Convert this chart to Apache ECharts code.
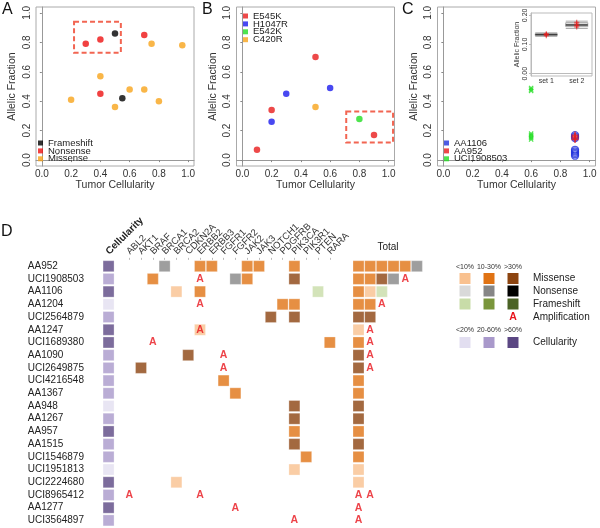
<!DOCTYPE html>
<html><head><meta charset="utf-8">
<script src="https://cdn.jsdelivr.net/npm/echarts@6/dist/echarts.min.js"></script>
<style>html,body{margin:0;padding:0;background:#fff}#c{width:600px;height:528px}</style>
</head><body><div id="c"></div>
<script>
// ---------- Panel A ----------
const aFrameshift = [[0.5,0.86],[0.55,0.42]];
const aNonsense = [[0.3,0.79],[0.4,0.82],[0.7,0.85],[0.4,0.45]];
const aMissense = [[0.75,0.79],[0.96,0.78],[0.4,0.57],[0.6,0.48],[0.7,0.48],[0.2,0.41],[0.5,0.36],[0.8,0.40]];
const aBox = [[0.22,0.94],[0.54,0.73]];
// ---------- Panel B ----------
const bE545K = [[0.5,0.70],[0.2,0.34],[0.1,0.07],[0.9,0.17]];
const bH1047R = [[0.6,0.49],[0.3,0.45],[0.2,0.26]];
const bE542K = [[0.8,0.28]];
const bC420R = [[0.5,0.36]];
const bBox = [[0.71,0.33],[1.03,0.12]];
// ---------- Panel C ----------
const cAA1106 = [[0.9,0.17],[0.9,0.16],[0.9,0.15],[0.9,0.07],[0.9,0.06],[0.9,0.05],[0.9,0.04],[0.9,0.03]];
const cAA952 = [[0.9,0.17],[0.9,0.16],[0.9,0.15],[0.9,0.14]];
const cUCI1908503 = [[0.6,0.49],[0.6,0.48],[0.6,0.47],[0.6,0.18],[0.6,0.17],[0.6,0.16],[0.6,0.15],[0.6,0.14]];
const insetCats = ['set 1','set 2'];
const insetBox = [[0.128,0.131,0.134,0.137,0.14],[0.155,0.161,0.167,0.175,0.18]];
const insetPts = [['set 1',0.13],['set 1',0.134],['set 1',0.137],['set 2',0.16],['set 2',0.165],['set 2',0.17],['set 2',0.176]];
const tickVals = [0,0.2,0.4,0.6,0.8,1.0];
const insetTicks = [0,0.1,0.2];
// ---------- Panel D ----------
const genes = ['ABL2','AKT1','BRAF','BRCA1','BRCA2','CDKN2A','ERBB2','ERBB3','FGFR1','FGFR2','JAK2','JAK3','NOTCH1','PDGFRB','PIK3CA','PIK3R1','PTEN','RARA'];
const rows = ['AA952','UCI1908503','AA1106','AA1204','UCI2564879','AA1247','UCI1689380','AA1090','UCI2649875','UCI4216548','AA1367','AA948','AA1267','AA957','AA1515','UCI1546879','UCI1951813','UCI2224680','UCI8965412','AA1277','UCI3564897'];
// 1: <20%, 2: 20-60%, 3: >60%
const cellularity = [3,2,3,1,2,3,3,2,2,2,2,1,2,3,2,2,1,3,2,3,2];
// M = missense, N = nonsense, F = frameshift ; 1: <10%, 2: 10-30%, 3: >30%
const mutations = [
  [['BRCA1','N2'],['ERBB2','M2'],['ERBB3','M2'],['JAK2','M2'],['JAK3','M2'],['PIK3CA','M2']],
  [['BRAF','M2'],['FGFR2','N2'],['JAK2','M2'],['PIK3CA','M3']],
  [['BRCA2','M1'],['ERBB2','M2'],['PTEN','F1']],
  [['PDGFRB','M2'],['PIK3CA','M2']],
  [['NOTCH1','M3'],['PIK3CA','M3']],
  [['ERBB2','M1']],
  [['RARA','M2']],
  [['CDKN2A','M3']],
  [['AKT1','M3']],
  [['FGFR1','M2']],
  [['FGFR2','M2']],
  [['PIK3CA','M3']],
  [['PIK3CA','M3']],
  [['PIK3CA','M2']],
  [['PIK3CA','M3']],
  [['PIK3R1','M2']],
  [['PIK3CA','M1']],
  [['BRCA2','M1']],
  [],[],[]
];
const amplifications = [[],['ERBB2'],[],['ERBB2'],[],['ERBB2'],['BRAF'],['FGFR1'],['FGFR1'],[],[],[],[],[],[],[],[],[],['ABL2','ERBB2'],['FGFR2'],['PIK3CA']];
const totals = [
  ['M2','M2','M2','M2','M2','N2'],
  ['M2','M2','M3','N2','A'],
  ['M2','M1','F1'],
  ['M2','M2','A'],
  ['M3','M3'],
  ['M1','A'],
  ['M2','A'],
  ['M3','A'],
  ['M3','A'],
  ['M2'],['M2'],['M3'],['M3'],['M2'],['M3'],['M2'],['M1'],['M1'],
  ['A','A'],['A'],['A']
];

const F = "'Liberation Sans', Arial, Helvetica, sans-serif";
const mutColors = {M1:'#f9c18f',M2:'#e07314',M3:'#8c4410',N1:'#d9d9d9',N2:'#868686',N3:'#000000',F1:'#c8dca8',F2:'#7a963c',F3:'#4b6326'};
const cellColors = {1:'#e2def0',2:'#a999cb',3:'#5b4783'};
const CELL_X = -1.75, TOTAL_X = 19.43, TOTAL_STEP = 0.99;

function mainX(gi){
  return {gridIndex:gi,type:'value',min:-0.04,max:1.04,name:'Tumor Cellularity',nameLocation:'middle',nameGap:13,
    nameTextStyle:{fontFamily:F,fontSize:10.5,color:'#333'},
    axisLine:{show:true,lineStyle:{color:'#999'}},
    axisTick:{show:true,customValues:tickVals,length:2,lineStyle:{color:'#888'}},
    axisLabel:{customValues:tickVals,formatter:v=>v.toFixed(1),fontFamily:F,fontSize:10,color:'#333',margin:3},
    splitLine:{show:false}};
}
function mainY(gi){
  return {gridIndex:gi,type:'value',min:-0.04,max:1.04,name:'Allelic Fraction',nameLocation:'middle',nameGap:18,
    nameTextStyle:{fontFamily:F,fontSize:10.5,color:'#333'},
    axisLine:{show:true,lineStyle:{color:'#999'}},
    axisTick:{show:true,customValues:tickVals,length:2,lineStyle:{color:'#888'}},
    axisLabel:{customValues:tickVals,formatter:v=>v.toFixed(1),fontFamily:F,fontSize:10,color:'#333',margin:4,rotate:90},
    splitLine:{show:false}};
}
function dashedBox(box){
  return {silent:true,itemStyle:{color:'rgba(0,0,0,0)',borderColor:'#f26552',borderWidth:2,borderType:[5,3]},
    data:[[{xAxis:box[0][0],yAxis:box[0][1]},{xAxis:box[1][0],yAxis:box[1][1]}]]};
}
function pts(name,gi,data,color,extra){
  return Object.assign({type:'scatter',name:name,xAxisIndex:gi,yAxisIndex:gi,data:data,symbolSize:6.5,itemStyle:{color:color}},extra||{});
}
const plusPath = 'path://M4,0H6V4H10V6H6V10H4V6H0V4H4Z';

// Panel D data building
const dCells = [];
rows.forEach((r,i)=>{
  dCells.push({value:[CELL_X,r],itemStyle:{color:cellColors[cellularity[i]]}});
  mutations[i].forEach(m=>dCells.push({value:[genes.indexOf(m[0]),r],itemStyle:{color:mutColors[m[1]]}}));
});
const dAmps = [];
rows.forEach((r,i)=>amplifications[i].forEach(g=>dAmps.push([genes.indexOf(g),r])));
const tCells = [], tAmps = [];
rows.forEach((r,i)=>totals[i].forEach((c,j)=>{
  const x = TOTAL_X + j*TOTAL_STEP;
  if (c==='A') tAmps.push([x,r]); else tCells.push({value:[x,r],itemStyle:{color:mutColors[c]}});
}));
const ampLabel = {show:true,formatter:'A',position:'inside',color:'#e8141c',fontWeight:'bold',fontSize:10.5,fontFamily:F};

// D legend graphics
const levelHeads = ['<10%','10-30%','>30%'];
const cellHeads = ['<20%','20-60%','>60%'];
const typeNames = ['Missense','Nonsense','Frameshift','Amplification'];
const legX = [465,489,513], legY = [278.5,291,304,317];
const g = [];
[['A',2,2],['B',202,2],['C',402,2],['D',1,224]].forEach(p=>g.push({type:'text',x:p[1],y:p[2],style:{text:p[0],fill:'#111',font:'16px '+F,verticalAlign:'top'}}));
g.push({type:'text',x:388,y:252,style:{text:'Total',fill:'#222',font:'10px '+F,align:'center',verticalAlign:'bottom'}});
levelHeads.forEach((t,k)=>g.push({type:'text',x:legX[k],y:267,style:{text:t,fill:'#333',font:'7px '+F,align:'center',verticalAlign:'middle'}}));
['M','N','F'].forEach((t,r)=>[1,2,3].forEach((lv,k)=>g.push({type:'rect',shape:{x:legX[k]-5.5,y:legY[r]-5.5,width:11,height:11},style:{fill:mutColors[t+lv]}})));
g.push({type:'text',x:legX[2],y:legY[3],style:{text:'A',fill:'#e8141c',font:'bold 10.5px '+F,align:'center',verticalAlign:'middle'}});
typeNames.forEach((t,r)=>g.push({type:'text',x:533,y:legY[r],style:{text:t,fill:'#222',font:'10px '+F,verticalAlign:'middle'}}));
cellHeads.forEach((t,k)=>g.push({type:'text',x:legX[k],y:330,style:{text:t,fill:'#333',font:'7px '+F,align:'center',verticalAlign:'middle'}}));
[1,2,3].forEach((lv,k)=>g.push({type:'rect',shape:{x:legX[k]-5.5,y:337,width:11,height:11},style:{fill:cellColors[lv]}}));
g.push({type:'text',x:533,y:342.5,style:{text:'Cellularity',fill:'#222',font:'10px '+F,verticalAlign:'middle'}});

const geneIdx = genes.map((_,i)=>i);
const legendBase = {orient:'vertical',icon:'rect',itemWidth:5,itemHeight:5,itemGap:-2.1,padding:0,selectedMode:false,
  textStyle:{fontFamily:F,fontSize:9.5,color:'#222',lineHeight:8}};

const option = {
  animation:false,
  backgroundColor:'#fff',
  textStyle:{fontFamily:F},
  grid:[
    {left:36,top:7,width:158,height:159,show:true,borderColor:'#aaa',borderWidth:1},
    {left:236.5,top:7,width:158,height:159,show:true,borderColor:'#aaa',borderWidth:1},
    {left:437.5,top:7,width:158,height:159,show:true,borderColor:'#aaa',borderWidth:1},
    {left:531,top:13,width:61,height:63,show:true,borderColor:'#bbb',borderWidth:1,backgroundColor:'#fff',z:5},
    {left:93.8,top:259.85,width:342.2,height:266.9}
  ],
  xAxis:[mainX(0),mainX(1),mainX(2),
    {gridIndex:3,type:'category',data:insetCats,z:6,axisLine:{show:true,lineStyle:{color:'#bbb'}},axisTick:{show:false},
      axisLabel:{fontFamily:F,fontSize:7,color:'#333',margin:2}},
    {gridIndex:4,type:'value',position:'top',min:-3,max:26,axisLine:{show:false},splitLine:{show:false},
      axisTick:{show:true,customValues:geneIdx,length:2,lineStyle:{color:'#bbb'}},
      axisLabel:{show:false}}
  ],
  yAxis:[mainY(0),mainY(1),mainY(2),
    {gridIndex:3,type:'value',min:-0.008,max:0.208,z:6,name:'Allelic Fraction',nameLocation:'middle',nameGap:10,
      nameTextStyle:{fontFamily:F,fontSize:7,color:'#333'},
      axisLine:{show:true,lineStyle:{color:'#bbb'}},axisTick:{show:true,customValues:insetTicks,length:2},
      axisLabel:{customValues:insetTicks,formatter:v=>v.toFixed(2),fontFamily:F,fontSize:7,color:'#333',rotate:90,margin:2},
      splitLine:{show:false}},
    {gridIndex:4,type:'category',data:rows,inverse:true,axisLine:{show:false},axisTick:{show:false},
      axisLabel:{interval:0,fontFamily:F,fontSize:10,color:'#222',align:'left',margin:66}}
  ],
  legend:[
    Object.assign({},legendBase,{data:['Frameshift','Nonsense','Missense'],left:38,top:138}),
    Object.assign({},legendBase,{data:['E545K','H1047R','E542K','C420R'],left:243,top:11}),
    Object.assign({},legendBase,{left:444,top:138,data:[
      {name:'AA1106',itemStyle:{color:'#2233dd',borderWidth:0}},
      {name:'AA952',itemStyle:{color:'#e81c1c',borderWidth:0}},
      {name:'UCI1908503',itemStyle:{color:'#22dd22',borderWidth:0}}]})
  ],
  graphic:g,
  series:[
    pts('Frameshift',0,aFrameshift,'#000000',{markArea:dashedBox(aBox)}),
    pts('Nonsense',0,aNonsense,'#ee1111'),
    pts('Missense',0,aMissense,'#f8a41a'),
    pts('E545K',1,bE545K,'#e81c1c',{markArea:dashedBox(bBox)}),
    pts('H1047R',1,bH1047R,'#1a1aee'),
    pts('E542K',1,bE542K,'#22dd22'),
    pts('C420R',1,bC420R,'#f8a41a'),
    pts('UCI1908503',2,cUCI1908503,'#22dd22',{symbol:plusPath,symbolRotate:45,symbolSize:6}),
    pts('AA1106',2,cAA1106,'rgba(0,0,0,0)',{symbol:'circle',symbolSize:7,itemStyle:{color:'rgba(0,0,0,0)',borderColor:'#2233dd',borderWidth:1.3}}),
    pts('AA952',2,cAA952,'#e81c1c',{symbol:plusPath,symbolSize:7}),
    {type:'boxplot',name:'inset box',xAxisIndex:3,yAxisIndex:3,data:insetBox,boxWidth:[22,22],z:7,
      itemStyle:{color:'#e4e4e4',borderColor:'#aaa',borderWidth:1}},
    {type:'scatter',name:'inset median',xAxisIndex:3,yAxisIndex:3,z:8,symbol:'rect',symbolSize:[22,1.5],
      itemStyle:{color:'#222'},data:insetBox.map((b,i)=>[insetCats[i],b[2]])},
    {type:'scatter',name:'inset pts',xAxisIndex:3,yAxisIndex:3,z:9,symbol:plusPath,symbolSize:5,
      itemStyle:{color:'#e81c1c'},data:insetPts},
    {type:'scatter',name:'cells',xAxisIndex:4,yAxisIndex:4,symbol:'rect',symbolSize:11,data:dCells.concat(tCells),
      itemStyle:{borderColor:'rgba(255,255,255,0.35)',borderWidth:1}},
    {type:'scatter',name:'amps',xAxisIndex:4,yAxisIndex:4,symbol:'rect',symbolSize:1,z:5,
      itemStyle:{color:'rgba(0,0,0,0)'},label:ampLabel,data:dAmps.concat(tAmps)}
  ]
};
const chart = echarts.init(document.getElementById('c'),null,{renderer:'canvas'});
chart.setOption(option);
// rotated column headers placed at the columns through the axis scale
const headY = 253;
const heads = [{t:'Cellularity',v:CELL_X,bold:true}].concat(genes.map((n,i)=>({t:n,v:i})));
heads.forEach(h=>{
  const px = chart.convertToPixel({xAxisIndex:4}, h.v);
  g.push({type:'text',x:px-1,y:headY,rotation:Math.PI/4,
    style:{text:h.t,fill:h.bold?'#222':'#333',font:(h.bold?'bold 10px ':'9.5px ')+F,align:'left',verticalAlign:'middle'}});
});
chart.setOption({graphic:g});
</script></body></html>
